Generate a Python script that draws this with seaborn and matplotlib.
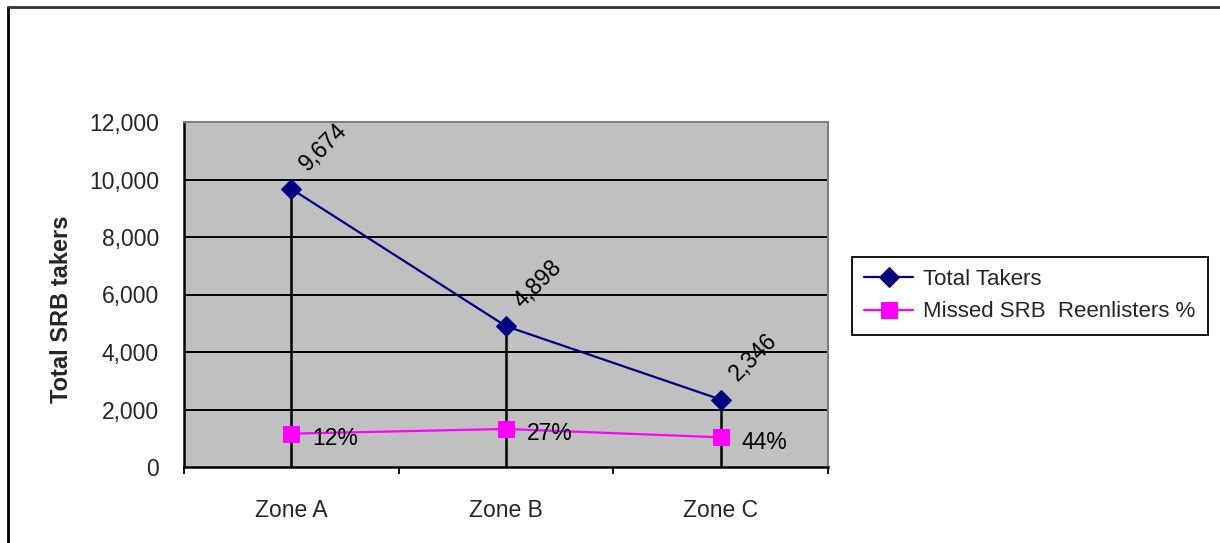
import matplotlib
matplotlib.use("Agg")
import matplotlib.pyplot as plt
from matplotlib.lines import Line2D
from matplotlib.ticker import FixedLocator, FuncFormatter
import seaborn as sns
import pandas as pd

# Chart data
zones = ["Zone A", "Zone B", "Zone C"]
total_takers = [9674, 4898, 2346]
missed_pct = [0.12, 0.27, 0.44]

# Missed reenlisters are plotted as a count of the takers in each zone
missed_count = [t * p for t, p in zip(total_takers, missed_pct)]

df = pd.DataFrame({"zone": zones, "takers": total_takers, "missed": missed_count})

sns.set_style("white")
plt.rcParams["font.family"] = ["Liberation Sans", "DejaVu Sans"]

FS = 16.5

fig = plt.figure(figsize=(12.2, 5.43), dpi=100)
ax = fig.add_axes([184 / 1220, 1 - 467 / 543, 644 / 1220, 345 / 543])
ax.set_facecolor("#C0C0C0")

navy = "#000080"
magenta = "#FF00FF"

# Horizontal gridlines
for y in range(2000, 12001, 2000):
    ax.axhline(y, color="black", lw=1.4, zorder=1)

# Drop lines from each total to the axis
ax.vlines(range(len(zones)), 0, df["takers"], color="black", lw=1.8, zorder=2)

sns.lineplot(data=df, x="zone", y="takers", ax=ax, sort=False, color=navy,
             lw=1.6, marker="D", markersize=10, markeredgecolor=navy,
             label="Total Takers", zorder=4)
sns.lineplot(data=df, x="zone", y="missed", ax=ax, sort=False, color=magenta,
             lw=1.6, marker="s", markersize=11, markeredgecolor=magenta,
             label="Missed SRB  Reenlisters %", zorder=4)

# Value labels
for i, v in enumerate(total_takers):
    ax.annotate(f"{v:,}", (i, v), xytext=(12, 12.5), textcoords="offset points",
                rotation=45, rotation_mode="anchor", ha="left", va="baseline",
                fontsize=FS, color="black", zorder=5)
for i, (c, p) in enumerate(zip(missed_count, missed_pct)):
    ax.annotate(f"{p:.0%}", (i, c), xytext=(15, -3.5), textcoords="offset points",
                ha="left", va="center", fontsize=FS, color="black", zorder=5)

ax.set_xlim(-0.5, 2.5)
ax.set_ylim(0, 12000)
ax.yaxis.set_major_locator(FixedLocator(range(0, 12001, 2000)))
ax.yaxis.set_major_formatter(FuncFormatter(lambda v, _: f"{int(v):,}"))
ax.xaxis.set_minor_locator(FixedLocator([-0.5, 0.5, 1.5, 2.5]))

ax.tick_params(axis="y", which="major", direction="out", length=5, width=1.3,
               color="black", pad=13, labelsize=FS)
ax.tick_params(axis="x", which="major", length=0, pad=23, labelsize=FS)
ax.tick_params(axis="x", which="minor", direction="out", length=5, width=1.3,
               color="black", bottom=True)
ax.set_xlabel("")
ax.set_ylabel("Total SRB takers", fontsize=17, fontweight="bold")
ax.yaxis.set_label_coords((73 - 184) / 644, 1 - (309 - 122) / 345)

for side in ["left", "bottom"]:
    ax.spines[side].set_color("black")
    ax.spines[side].set_linewidth(1.8)
for side in ["top", "right"]:
    ax.spines[side].set_color("#808080")
    ax.spines[side].set_linewidth(1.5)

ax.legend(loc="upper left", bbox_to_anchor=(852 / 1220, 1 - 257 / 543),
          bbox_transform=fig.transFigure, frameon=True, fancybox=False,
          edgecolor="black", framealpha=1, fontsize=16, handlelength=2.2,
          borderpad=0.55, labelspacing=0.5, handletextpad=0.45,
          borderaxespad=0)
leg = ax.get_legend()
leg.get_frame().set_linewidth(1.3)

# Outer chart frame (left and top edges)
fig.add_artist(Line2D([8 / 1220, 8 / 1220], [0, 1 - 7 / 543], color="black",
                      lw=2, transform=fig.transFigure))
fig.add_artist(Line2D([8 / 1220, 1], [1 - 7 / 543, 1 - 7 / 543],
                      color="#333333", lw=2, transform=fig.transFigure))

fig.savefig("out.png", dpi=100)
